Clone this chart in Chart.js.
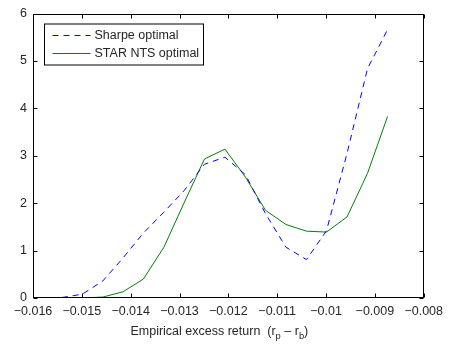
<!DOCTYPE html>
<html>
<head>
<meta charset="utf-8">
<script src="https://cdn.jsdelivr.net/npm/chart.js@4/dist/chart.umd.min.js"></script>
<style>
  html, body { margin: 0; padding: 0; background: #fff; }
  #wrap { width: 449px; height: 345px; }
</style>
</head>
<body>
<div id="wrap"><canvas id="c" width="449" height="345"></canvas></div>
<script>
// Empirical excess return grid (r_p - r_b)
const excessReturn = [-0.01541, -0.01499, -0.01457, -0.01416, -0.01374, -0.01332, -0.01291, -0.01249,
                      -0.01207, -0.01165, -0.01124, -0.01082, -0.01040, -0.00999, -0.00957, -0.00915, -0.00874];
// Density of the Sharpe-optimal portfolio
const sharpeOptimal = [0.01, 0.08, 0.36, 0.84, 1.37, 1.81, 2.26, 2.82, 2.97, 2.60, 1.78, 1.07, 0.81, 1.42, 3.05, 4.84, 5.66];
// Density of the STAR NTS-optimal portfolio
const starNtsOptimal = [0.00, 0.00, 0.02, 0.13, 0.40, 1.07, 2.00, 2.93, 3.14, 2.55, 1.85, 1.55, 1.41, 1.39, 1.71, 2.63, 3.83];

const seriesLabels = ['Sharpe optimal', 'STAR NTS optimal'];
const xTicksRange = { min: -0.016, max: -0.008, step: 0.001 };
const yTicksRange = { min: 0, max: 6, step: 1 };

const FONT = 'Liberation Sans, Arial, Helvetica, sans-serif';
const FONT_SIZE = 12.5;
const TEXT_COLOR = '#262626';

function toPoints(xs, ys) { return xs.map((x, i) => ({ x: x, y: ys[i] })); }

function fmtTick(v) {
  const a = parseFloat(Math.abs(v).toFixed(3)).toString();
  return (v < -1e-12 ? '\u2212' : '') + a;
}

// Axes box with inward ticks on all four sides
const boxPlugin = {
  id: 'boxTicks',
  afterDatasetsDraw(chart) {
    const { ctx, chartArea: a, scales } = chart;
    ctx.save();
    ctx.strokeStyle = '#000';
    ctx.lineWidth = 1;
    const L = Math.round(a.left) + 0.5, R = Math.round(a.right) - 0.5;
    const T = Math.round(a.top) + 0.5, B = Math.round(a.bottom) - 0.5;
    ctx.strokeRect(L, T, R - L, B - T);
    const tl = 4;
    ctx.beginPath();
    scales.x.ticks.forEach(t => {
      const px = Math.round(scales.x.getPixelForValue(t.value)) + 0.5;
      ctx.moveTo(px, B); ctx.lineTo(px, B - tl);
      ctx.moveTo(px, T); ctx.lineTo(px, T + tl);
    });
    scales.y.ticks.forEach(t => {
      const py = Math.round(scales.y.getPixelForValue(t.value)) + 0.5;
      ctx.moveTo(L, py); ctx.lineTo(L + tl, py);
      ctx.moveTo(R, py); ctx.lineTo(R - tl, py);
    });
    ctx.stroke();
    ctx.restore();
  }
};

// Boxed legend in the upper-left corner of the axes
const legendPlugin = {
  id: 'boxLegend',
  afterDraw(chart) {
    const { ctx, chartArea: a } = chart;
    const x0 = a.left + 11.5, y0 = a.top + 10.5, w = 159, h = 41;
    ctx.save();
    ctx.fillStyle = '#fff';
    ctx.fillRect(x0, y0, w, h);
    ctx.strokeStyle = '#000';
    ctx.lineWidth = 1;
    ctx.strokeRect(x0, y0, w, h);
    ctx.font = FONT_SIZE + 'px ' + FONT;
    ctx.textBaseline = 'middle';
    chart.data.datasets.forEach((ds, i) => {
      const y = y0 + 11.5 + i * 18;
      ctx.beginPath();
      ctx.strokeStyle = ds.borderColor;
      ctx.lineWidth = ds.borderWidth;
      ctx.setLineDash(ds.borderDash || []);
      ctx.moveTo(x0 + 8, y);
      ctx.lineTo(x0 + 46, y);
      ctx.stroke();
      ctx.setLineDash([]);
      ctx.fillStyle = TEXT_COLOR;
      ctx.textAlign = 'left';
      ctx.fillText(ds.label, x0 + 50, y);
    });
    ctx.restore();
  }
};

// x-axis label with subscripts
const xLabelPlugin = {
  id: 'xLabel',
  afterDraw(chart) {
    const { ctx, chartArea: a } = chart;
    const parts = [
      { t: 'Empirical excess return  (r', sub: false },
      { t: 'p', sub: true },
      { t: ' \u2013 r', sub: false },
      { t: 'b', sub: true },
      { t: ')', sub: false }
    ];
    const main = FONT_SIZE + 'px ' + FONT;
    const small = (FONT_SIZE * 0.75) + 'px ' + FONT;
    ctx.save();
    let total = 0;
    parts.forEach(p => { ctx.font = p.sub ? small : main; p.w = ctx.measureText(p.t).width; total += p.w; });
    let x = (a.left + a.right) / 2 - total / 2 - 9;
    const y = 335;
    ctx.fillStyle = TEXT_COLOR;
    ctx.textBaseline = 'alphabetic';
    ctx.textAlign = 'left';
    parts.forEach(p => {
      ctx.font = p.sub ? small : main;
      ctx.fillText(p.t, x, p.sub ? y + 4 : y);
      x += p.w;
    });
    ctx.restore();
  }
};

new Chart(document.getElementById('c'), {
  type: 'line',
  data: {
    datasets: [
      {
        label: seriesLabels[0],
        data: toPoints(excessReturn, sharpeOptimal),
        borderColor: '#0000ff',
        borderWidth: 1,
        borderDash: [6, 5],
        pointRadius: 0,
        fill: false,
        tension: 0
      },
      {
        label: seriesLabels[1],
        data: toPoints(excessReturn, starNtsOptimal),
        borderColor: '#008000',
        borderWidth: 1,
        pointRadius: 0,
        fill: false,
        tension: 0
      }
    ]
  },
  options: {
    responsive: false,
    devicePixelRatio: 1,
    animation: false,
    layout: { padding: { left: 0, top: 13, right: 24, bottom: 0 } },
    plugins: { legend: { display: false }, tooltip: { enabled: false } },
    scales: {
      x: {
        type: 'linear',
        min: xTicksRange.min,
        max: xTicksRange.max,
        grid: { display: false, drawTicks: false },
        border: { display: false },
        ticks: {
          stepSize: xTicksRange.step,
          autoSkip: false,
          maxRotation: 0,
          padding: 6,
          color: TEXT_COLOR,
          font: { family: FONT, size: FONT_SIZE },
          callback: v => fmtTick(v)
        },
        afterFit: s => { s.height = 47; }
      },
      y: {
        type: 'linear',
        min: yTicksRange.min,
        max: yTicksRange.max,
        grid: { display: false, drawTicks: false },
        border: { display: false },
        ticks: {
          stepSize: yTicksRange.step,
          padding: 6,
          color: TEXT_COLOR,
          font: { family: FONT, size: FONT_SIZE },
          callback: v => fmtTick(v)
        },
        afterFit: s => { s.width = 33; }
      }
    }
  },
  plugins: [boxPlugin, legendPlugin, xLabelPlugin]
});
</script>
</body>
</html>
